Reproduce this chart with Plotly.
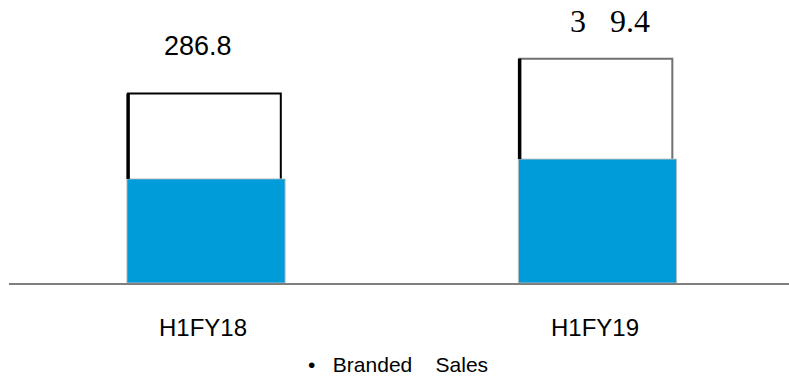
import plotly.graph_objects as go

categories = ["H1FY18", "H1FY19"]
branded_sales = [157.5, 187.5]
total_values = [286.8, 339.4]
value_labels = ["286.8", "3\u00a0\u00a0\u00a09.4"]
legend_label = "•\u00a0\u00a0\u00a0Branded\u00a0\u00a0\u00a0\u00a0Sales"

x_idx = list(range(len(categories)))

fig = go.Figure()

# outlined total bars
fig.add_trace(go.Bar(
    x=x_idx, y=total_values, width=0.39, offset=-0.199,
    marker=dict(color="white", line=dict(color=["#000000", "#707070"], width=2)),
    showlegend=False, hoverinfo="skip",
))

# thick left edges of outlines
lx, ly = [], []
for i, (b, t) in enumerate(zip(branded_sales, total_values)):
    lx += [i - 0.199, i - 0.199, None]
    ly += [b, t, None]
fig.add_trace(go.Scatter(x=lx, y=ly, mode="lines", line=dict(color="black", width=3.5),
                         showlegend=False, hoverinfo="skip"))

# branded sales blue bars
fig.add_trace(go.Bar(
    x=x_idx, y=branded_sales, width=0.404, offset=-0.202,
    marker=dict(color="#009BD9", line=dict(color="rgba(190,190,190,0.9)", width=1)),
    showlegend=False, hoverinfo="skip",
))

annotations = []
shifts = [(-8.5, 47, "Liberation Sans", 27), (12.5, 37.5, "Liberation Serif", 32)]
for i, (t, lab) in enumerate(zip(total_values, value_labels)):
    xs, ys, fam, sz = shifts[i]
    annotations.append(dict(x=i, y=t, xref="x", yref="y", text=lab, showarrow=False,
                            xshift=xs, yshift=ys, yanchor="middle", xanchor="center",
                            font=dict(family=fam, size=sz, color="black")))
for i, c in enumerate(categories):
    annotations.append(dict(x=i, y=0, xref="x", yref="y", text=c, showarrow=False,
                            xshift=-3, yshift=-44, yanchor="middle", xanchor="center",
                            font=dict(family="Liberation Sans", size=24, color="black")))
annotations.append(dict(x=(398 - 9) / 780, y=0, xref="paper", yref="paper", text=legend_label,
                        showarrow=False, yshift=-81, yanchor="middle", xanchor="center",
                        font=dict(family="Liberation Sans", size=21, color="black")))

fig.update_layout(
    width=789, height=376,
    margin=dict(l=9, r=0, t=0, b=93),
    paper_bgcolor="white", plot_bgcolor="white",
    barmode="overlay",
    annotations=annotations,
    xaxis=dict(range=[-0.5032, 1.489], showticklabels=False, ticks="", showgrid=False,
               zeroline=False, showline=True, linecolor="#7f7f7f", linewidth=2, fixedrange=True),
    yaxis=dict(range=[0, 428.1], visible=False, showgrid=False, zeroline=False, fixedrange=True),
)

fig.write_html(
    "out.html",
    config={"displayModeBar": False},
    post_script="document.body.style.margin='0';document.body.style.overflow='hidden';",
)
